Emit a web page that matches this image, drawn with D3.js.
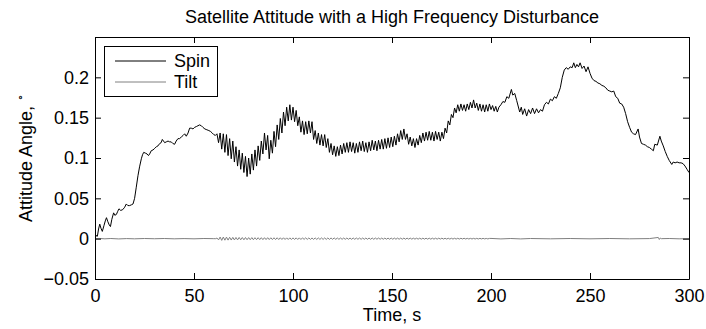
<!DOCTYPE html>
<html>
<head>
<meta charset="utf-8">
<script src="https://cdn.jsdelivr.net/npm/d3@7"></script>
<style>
  body { margin: 0; background: #fff; }
  text { font-family: "Liberation Sans", Arial, Helvetica, sans-serif; }
</style>
</head>
<body>
<svg id="chart" width="706" height="329"></svg>
<script>
// ---- data -------------------------------------------------------------
// Spin angle (deg) before the disturbance sets in: [time s, angle]
const spinEarly = [
  [0,0.000],[0.6,0.004],[1.2,0.003],[1.8,0.012],[2.4,0.018],[3,0.013],[3.7,0.009],[4.5,0.016],
  [5.2,0.022],[5.8,0.026],[6.5,0.021],[7.2,0.017],[7.8,0.015],[8.5,0.024],[9.4,0.032],[10,0.029],
  [10.8,0.030],[11.5,0.034],[12.1,0.037],[13,0.035],[14,0.036],[15,0.039],[15.8,0.043],[16.6,0.041],
  [17.5,0.041],[18.4,0.042],[19.2,0.043],[20,0.050],[20.8,0.063],[21.7,0.078],[22.5,0.089],[23.4,0.099],
  [24,0.104],[24.6,0.107],[25.5,0.106],[26.3,0.105],[27,0.103],[27.6,0.105],[28.4,0.109],[29.3,0.110],
  [30.2,0.112],[31,0.114],[31.8,0.115],[32.7,0.118],[33.4,0.119],[34,0.123],[34.6,0.121],[35.2,0.119],
  [36,0.120],[36.9,0.121],[37.7,0.120],[38.5,0.120],[39.3,0.118],[40.2,0.117],[41,0.121],[41.9,0.124],
  [42.7,0.124],[43.6,0.126],[44.5,0.128],[45.3,0.130],[46.1,0.127],[47,0.131],[47.8,0.137],[48.6,0.137],
  [49.5,0.136],[50.3,0.138],[51.2,0.139],[52,0.140],[52.8,0.141],[53.7,0.140],[54.5,0.138],[55.5,0.136],
  [56.5,0.135],[57.5,0.134],[58.3,0.133],[59.2,0.131],[60,0.129],[60.8,0.128]
];

// Samples while the high-frequency disturbance is active
const wobbleStart = 61.6;   // s, time of first sample
const wobbleStep = 0.8;     // s, spacing between samples
const spinWobble = [
  0.130,0.119,0.131,0.111,0.130,0.107,0.129,0.103,0.124,0.099,
  0.121,0.095,0.114,0.090,0.110,0.086,0.106,0.082,0.102,0.077,
  0.100,0.080,0.105,0.085,0.110,0.090,0.115,0.097,0.121,0.105,
  0.131,0.110,0.128,0.099,0.122,0.106,0.133,0.114,0.141,0.123,
  0.149,0.131,0.157,0.140,0.163,0.146,0.166,0.147,0.163,0.145,
  0.159,0.140,0.151,0.132,0.146,0.129,0.145,0.130,0.146,0.131,
  0.145,0.123,0.134,0.118,0.131,0.116,0.129,0.115,0.129,0.113,
  0.124,0.107,0.118,0.104,0.115,0.102,0.114,0.103,0.116,0.105,
  0.118,0.107,0.119,0.107,0.120,0.108,0.119,0.106,0.118,0.107,
  0.120,0.109,0.121,0.108,0.119,0.107,0.120,0.109,0.122,0.110,
  0.121,0.109,0.122,0.111,0.123,0.111,0.124,0.112,0.125,0.113,
  0.126,0.114,0.127,0.116,0.130,0.120,0.134,0.123,0.136,0.123,
  0.130,0.117,0.126,0.115,0.124,0.113,0.124,0.116,0.128,0.119,
  0.131,0.121,0.132,0.122,0.133,0.122,0.132,0.121,0.133,0.123,
  0.132,0.121,0.132,0.124,0.137,0.131,0.146,0.141,0.154,0.150,
  0.162,0.156,0.166,0.158,0.167,0.159,0.166,0.158,0.167,0.160,
  0.169,0.162,0.172,0.162,0.168,0.159,0.167,0.158,0.166,0.157,
  0.166,0.158,0.167
];
const tiltWobble = [
  0.0008,-0.0015,0.0020,-0.0021,0.0020,-0.0019,0.0019,-0.0018,0.0017,-0.0017,
  0.0016,-0.0016,0.0015,-0.0015,0.0015,-0.0014,0.0014,-0.0014,0.0014,-0.0013,
  0.0013,-0.0013,0.0013,-0.0013,0.0012,-0.0012,0.0012,-0.0012,0.0012,-0.0012,
  0.0012,-0.0011,0.0012,-0.0011,0.0011,-0.0011,0.0011,-0.0011,0.0011,-0.0011,
  0.0011,-0.0010,0.0011,-0.0010,0.0010,-0.0010,0.0010,-0.0010,0.0010,-0.0010,
  0.0010,-0.0010,0.0010,-0.0010,0.0010,-0.0009,0.0010,-0.0009,0.0009,-0.0009,
  0.0009,-0.0009,0.0009,-0.0009,0.0009,-0.0009,0.0009,-0.0009,0.0009,-0.0009,
  0.0009,-0.0009,0.0009,-0.0008,0.0009,-0.0008,0.0008,-0.0008,0.0008,-0.0008,
  0.0008,-0.0008,0.0008,-0.0008,0.0008,-0.0008,0.0008,-0.0008,0.0008,-0.0008,
  0.0008,-0.0008,0.0008,-0.0008,0.0008,-0.0008,0.0008,-0.0008,0.0008,-0.0008,
  0.0008,-0.0007,0.0008,-0.0007,0.0007,-0.0007,0.0007,-0.0007,0.0007,-0.0007,
  0.0007,-0.0007,0.0007,-0.0007,0.0007,-0.0007,0.0007,-0.0007,0.0007,-0.0007,
  0.0007,-0.0006,0.0007,-0.0006,0.0006,-0.0006,0.0006,-0.0006,0.0006,-0.0006,
  0.0006,-0.0006,0.0006,-0.0006,0.0006,-0.0006,0.0006,-0.0006,0.0006,-0.0006,
  0.0006,-0.0005,0.0006,-0.0005,0.0005,-0.0005,0.0005,-0.0005,0.0005,-0.0005,
  0.0005,-0.0005,0.0005,-0.0005,0.0005,-0.0004,0.0005,-0.0004,0.0004,-0.0004,
  0.0004,-0.0004,0.0004,-0.0004,0.0004,-0.0004,0.0004,-0.0003,0.0004,-0.0003,
  0.0003,-0.0003,0.0003
];

// Spin angle after the disturbance: [time s, angle]
const spinLate = [
  [200,0.160],[200.8,0.165],[201.6,0.158],[202.4,0.164],[203.2,0.157],[204,0.163],[205,0.166],
  [206,0.170],[207,0.169],[208,0.176],[209,0.174],[210.3,0.185],[211,0.178],[212,0.180],[213,0.171],
  [214.5,0.157],[215.3,0.163],[216,0.154],[217,0.161],[218,0.152],[219,0.160],[220,0.155],[221,0.162],
  [222,0.155],[223,0.161],[224,0.156],[225,0.160],[226,0.158],[227,0.166],[228,0.169],[229,0.167],
  [230,0.173],[231,0.171],[232,0.176],[233,0.174],[234,0.180],[235,0.187],[236,0.200],[237,0.209],
  [238,0.212],[239,0.210],[240,0.213],[241,0.212],[241.8,0.218],[242.6,0.212],[243.4,0.216],
  [244.2,0.213],[245,0.218],[246,0.211],[247,0.214],[248,0.207],[249,0.213],[250,0.205],[251,0.199],
  [252,0.196],[253,0.195],[254,0.193],[255,0.192],[256,0.190],[257,0.189],[258,0.187],[259,0.184],
  [260,0.183],[261,0.182],[262,0.183],[263,0.176],[264,0.174],[265,0.168],[266,0.167],[267,0.163],
  [268,0.155],[269,0.145],[270,0.138],[271,0.132],[272,0.130],[273,0.129],[274.3,0.136],[275,0.126],
  [276,0.118],[277,0.117],[278,0.116],[279,0.114],[280,0.113],[281,0.111],[282,0.109],[282.7,0.117],
  [284,0.116],[285.3,0.127],[286,0.121],[287,0.115],[288,0.108],[289,0.102],[290,0.097],[291.3,0.092],
  [292,0.095],[293,0.094],[294,0.095],[295,0.094],[296,0.094],[297,0.093],[298,0.090],[299,0.086],
  [300,0.082]
];

// Tilt angle outside the disturbance window: [time s, angle]
const tiltEarly = [
  [0,0],[2,0.0003],[5,-0.0002],[8,0.0002],[12,-0.0003],[16,0.0001],[20,-0.0002],[25,0.0002],
  [30,-0.0001],[35,0.0002],[40,-0.0002],[45,0.0001],[50,-0.0002],[55,0.0002],[60,0],[61,0]
];
const tiltLate = [
  [200,0.0003],[205,-0.0003],[210,0.0002],[215,-0.0003],[220,0.0002],[230,-0.0002],[240,0.0002],
  [250,-0.0002],[260,0.0002],[270,-0.0002],[280,0.0001],[284.5,0.0015],[285,-0.0010],[285.5,0.0008],
  [286,0],[290,0.0002],[295,-0.0002],[300,0]
];

const xTicks = [0, 50, 100, 150, 200, 250, 300];
const yTicks = [-0.05, 0, 0.05, 0.1, 0.15, 0.2];
const yTickLabels = ["\u22120.05", "0", "0.05", "0.1", "0.15", "0.2"];

const seriesNames = ["Spin", "Tilt"];
const seriesColors = ["#000000", "#808080"];

// ---- assemble series ---------------------------------------------------
const wobbleTimes = spinWobble.map((_, i) => wobbleStart + wobbleStep * i);
const spin = spinEarly
  .concat(spinWobble.map((v, i) => [wobbleTimes[i], v]))
  .concat(spinLate);
const tilt = tiltEarly
  .concat(tiltWobble.map((v, i) => [wobbleTimes[i], v]))
  .concat(tiltLate);

// ---- layout ------------------------------------------------------------
const plotLeft = 95, plotRight = 689, plotTop = 37, plotBottom = 279;
const fontSize = 18;

const svg = d3.select("#chart");
svg.append("rect").attr("width", 706).attr("height", 329).attr("fill", "#fff");

const x = d3.scaleLinear().domain([0, 300]).range([plotLeft, plotRight]);
const y = d3.scaleLinear().domain([-0.05, 0.25]).range([plotBottom, plotTop]);

svg.append("defs").append("clipPath").attr("id", "plotClip")
  .append("rect").attr("x", plotLeft).attr("y", plotTop)
  .attr("width", plotRight - plotLeft).attr("height", plotBottom - plotTop);

// data lines
const line = d3.line().x(d => x(d[0])).y(d => y(d[1]));
const plot = svg.append("g").attr("clip-path", "url(#plotClip)");
plot.append("path").datum(tilt)
  .attr("fill", "none").attr("stroke", seriesColors[1]).attr("stroke-width", 1)
  .attr("d", line);
plot.append("path").datum(spin)
  .attr("fill", "none").attr("stroke", seriesColors[0]).attr("stroke-width", 1)
  .attr("stroke-linejoin", "round")
  .attr("d", line);

// axes, ticks pointing inwards on all four sides
const fmtY = d => yTickLabels[yTicks.indexOf(d)];
function styleAxis(g) {
  g.selectAll(".domain").attr("stroke", "#000").attr("stroke-width", 1);
  g.selectAll(".tick line").attr("stroke", "#000");
  g.selectAll(".tick text").attr("fill", "#000")
    .style("font-size", fontSize + "px")
    .style("font-family", "'Liberation Sans', Arial, sans-serif");
}
svg.append("g").attr("transform", `translate(0,${plotBottom})`)
  .call(d3.axisBottom(x).tickValues(xTicks).tickFormat(d3.format("d"))
    .tickSizeInner(-6).tickSizeOuter(0).tickPadding(10))
  .call(styleAxis);
svg.append("g").attr("transform", `translate(0,${plotTop})`)
  .call(d3.axisTop(x).tickValues(xTicks).tickFormat("")
    .tickSizeInner(-6).tickSizeOuter(0))
  .call(styleAxis);
svg.append("g").attr("transform", `translate(${plotLeft},0)`)
  .call(d3.axisLeft(y).tickValues(yTicks).tickFormat(fmtY)
    .tickSizeInner(-6).tickSizeOuter(0).tickPadding(6))
  .call(styleAxis);
svg.append("g").attr("transform", `translate(${plotRight},0)`)
  .call(d3.axisRight(y).tickValues(yTicks).tickFormat("")
    .tickSizeInner(-6).tickSizeOuter(0))
  .call(styleAxis);

// title and axis labels
const midX = (plotLeft + plotRight) / 2;
svg.append("text").attr("x", midX).attr("y", 23)
  .attr("text-anchor", "middle").style("font-size", fontSize + "px")
  .text("Satellite Attitude with a High Frequency Disturbance");
svg.append("text").attr("x", midX).attr("y", 321)
  .attr("text-anchor", "middle").style("font-size", fontSize + "px")
  .text("Time, s");
const yLabel = svg.append("text")
  .attr("transform", `translate(32,${(plotTop + plotBottom) / 2}) rotate(-90)`)
  .attr("text-anchor", "middle").style("font-size", fontSize + "px");
yLabel.append("tspan").text("Attitude Angle, ");
yLabel.append("tspan").attr("dy", -8).style("font-size", "11px").text("\u2218");

// legend
const legend = svg.append("g");
legend.append("rect").attr("x", 104.5).attr("y", 46.5).attr("width", 113).attr("height", 50)
  .attr("fill", "#fff").attr("stroke", "#000").attr("stroke-width", 1);
seriesNames.forEach((name, i) => {
  const ly = 61 + i * 21;
  legend.append("line").attr("x1", 115).attr("x2", 166).attr("y1", ly).attr("y2", ly)
    .attr("stroke", seriesColors[i]).attr("stroke-width", 1);
  legend.append("text").attr("x", 174).attr("y", ly + 6)
    .style("font-size", fontSize + "px").text(name);
});
</script>
</body>
</html>
